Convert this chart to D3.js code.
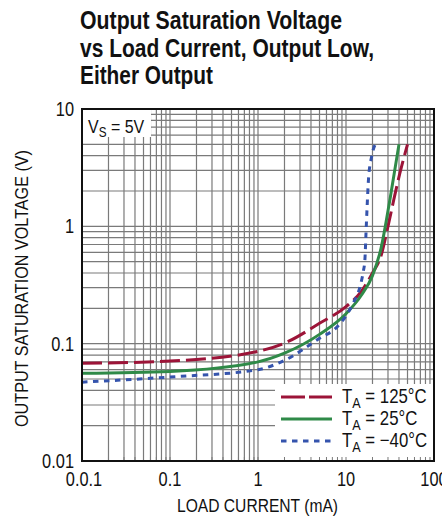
<!DOCTYPE html>
<html>
<head>
<meta charset="utf-8">
<script src="https://cdn.jsdelivr.net/npm/d3@7"></script>
<style>
  body { margin: 0; background: #fff; }
  svg { display: block; }
  text { font-family: "Liberation Sans", Arial, sans-serif; fill: #111; }
</style>
</head>
<body>
<div id="container"></div>
<script>
// values (load current in mA, voltage in V)
const hotCurrent = [0.01, 0.1, 1, 2, 5, 10, 15, 20, 25, 30, 35, 41, 50];
const hotVolts = [0.068, 0.071, 0.086, 0.101, 0.149, 0.207, 0.28, 0.40, 0.56, 1.0, 1.7, 2.85, 5];

const roomCurrent = [0.01, 0.1, 1, 2, 5, 10, 15, 20, 25, 32, 40];
const roomVolts = [0.056, 0.058, 0.070, 0.083, 0.12, 0.18, 0.26, 0.38, 0.65, 1.8, 5];

const coldCurrent = [0.01, 0.1, 1, 2, 5, 8, 12, 14.5, 15.7, 16.4, 16.9, 17.4, 18, 19.5, 21.5];
const coldVolts = [0.047, 0.052, 0.060, 0.072, 0.111, 0.14, 0.22, 0.31, 0.41, 0.52, 0.9, 1.5, 2.5, 3.9, 5];

const seriesNames = ["125°C", "25°C", "\u221240°C"];

const xTickValues = [0.01, 0.1, 1, 10, 100];
const xTickLabels = ["0.0.1", "0.1", "1", "10", "100"];
const yTickValues = [0.01, 0.1, 1, 10];
const yTickLabels = ["0.01", "0.1", "1", "10"];

const titleLines = ["Output Saturation Voltage", "vs Load Current, Output Low,", "Either Output"];
const titleWidths = [262, 294, 133];

const width = 442, height = 519;
const plotLeft = 82, plotRight = 434, plotTop = 109, plotBottom = 461;
const narrow = 0.84; // squeeze regular text to look like a condensed face

const x = d3.scaleLog().domain([0.01, 100]).range([plotLeft, plotRight]);
const y = d3.scaleLog().domain([0.01, 10]).range([plotBottom, plotTop]);

const svg = d3.select("#container").append("svg")
  .attr("width", width)
  .attr("height", height);

// text squeezed horizontally around its anchor point
function narrowText(px, py, size, anchor) {
  return svg.append("text")
    .attr("transform", `translate(${px},${py}) scale(${narrow},1)`)
    .attr("font-size", size)
    .attr("text-anchor", anchor || "start");
}

// title
svg.append("g").selectAll("text")
  .data(titleLines)
  .join("text")
  .attr("x", 80)
  .attr("y", (d, i) => 29 + i * 27.5)
  .attr("font-size", 25)
  .attr("font-weight", "bold")
  .attr("textLength", (d, i) => titleWidths[i])
  .attr("lengthAdjust", "spacingAndGlyphs")
  .text(d => d);

// positions 1..9 in every decade
function decadeSteps(lo, hi) {
  const out = [];
  for (let p = lo; p < hi * 0.999; p *= 10) {
    for (let k = 1; k < 10; k++) out.push(p * k);
  }
  out.push(hi);
  return out;
}

const grid = svg.append("g").attr("stroke", "#7a7a7a").attr("stroke-width", 1.2);
for (let v of decadeSteps(0.01, 100)) {
  grid.append("line")
    .attr("x1", x(v)).attr("x2", x(v))
    .attr("y1", plotTop).attr("y2", plotBottom);
}
for (let v of decadeSteps(0.01, 10)) {
  grid.append("line")
    .attr("x1", plotLeft).attr("x2", plotRight)
    .attr("y1", y(v)).attr("y2", y(v));
}

// white boxes for the supply note and the legend
svg.append("rect")
  .attr("x", plotLeft).attr("y", plotTop)
  .attr("width", 69).attr("height", 28)
  .attr("fill", "#fff");

svg.append("rect")
  .attr("x", 275).attr("y", 384)
  .attr("width", plotRight - 275).attr("height", plotBottom - 384)
  .attr("fill", "#fff");

// short inward ticks along the bottom (visible under the legend)
for (let v of decadeSteps(0.01, 100)) {
  svg.append("line")
    .attr("x1", x(v)).attr("x2", x(v))
    .attr("y1", plotBottom).attr("y2", plotBottom - 4)
    .attr("stroke", "#7a7a7a");
}

const vs = narrowText(88, 133, 19);
vs.append("tspan").text("V");
vs.append("tspan").attr("font-size", 14).attr("dy", 4).text("S");
vs.append("tspan").attr("dy", -4).text(" = 5V");

// curves
const series = [
  { xs: hotCurrent, ys: hotVolts, color: "#9c1438", dash: "20,6" },
  { xs: roomCurrent, ys: roomVolts, color: "#2f8a48", dash: null },
  { xs: coldCurrent, ys: coldVolts, color: "#3554ad", dash: "5.5,5.5" }
];

const line = d3.line()
  .x(d => x(d[0]))
  .y(d => y(d[1]))
  .curve(d3.curveMonotoneX);

for (let s of series) {
  svg.append("path")
    .datum(s.xs.map((c, i) => [c, s.ys[i]]))
    .attr("d", line)
    .attr("fill", "none")
    .attr("stroke", s.color)
    .attr("stroke-width", 3)
    .attr("stroke-dasharray", s.dash);
}

// legend
series.forEach((s, i) => {
  const ly = 397 + i * 22;
  svg.append("line")
    .attr("x1", 281).attr("x2", 332)
    .attr("y1", ly).attr("y2", ly)
    .attr("stroke", s.color)
    .attr("stroke-width", 3)
    .attr("stroke-dasharray", i === 0 ? "24,4" : s.dash);
  const t = narrowText(342, ly + 6, 20);
  t.append("tspan").text("T");
  t.append("tspan").attr("font-size", 15).attr("dy", 5).text("A");
  t.append("tspan").attr("dy", -5).text(" = " + seriesNames[i]);
});

// frame
svg.append("rect")
  .attr("x", plotLeft).attr("y", plotTop)
  .attr("width", plotRight - plotLeft).attr("height", plotBottom - plotTop)
  .attr("fill", "none")
  .attr("stroke", "#111")
  .attr("stroke-width", 2);

// tick labels
xTickValues.forEach((v, i) => {
  narrowText(x(v) + (i === 0 ? 2 : 0), 486, 19.5, "middle").text(xTickLabels[i]);
});
yTickValues.forEach((v, i) => {
  narrowText(74, y(v) + 7, 19.5, "end").text(yTickLabels[i]);
});

// axis titles
svg.append("text")
  .attr("x", 177)
  .attr("y", 512)
  .attr("font-size", 18)
  .attr("textLength", 161)
  .attr("lengthAdjust", "spacingAndGlyphs")
  .text("LOAD CURRENT (mA)");

svg.append("text")
  .attr("transform", "translate(28,427) rotate(-90)")
  .attr("font-size", 18)
  .attr("textLength", 277)
  .attr("lengthAdjust", "spacingAndGlyphs")
  .text("OUTPUT SATURATION VOLTAGE (V)");
</script>
</body>
</html>
